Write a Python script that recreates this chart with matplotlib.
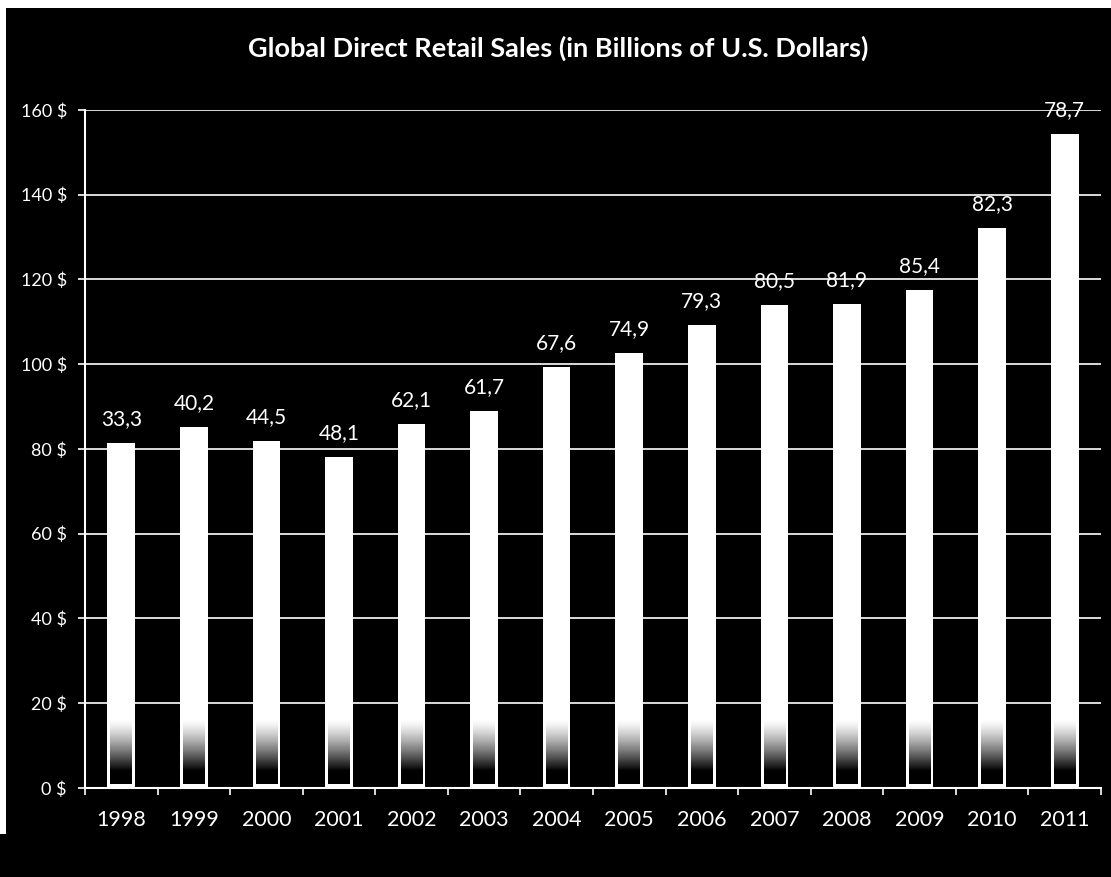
import numpy as np
import matplotlib
matplotlib.use("Agg")
import matplotlib.pyplot as plt
from matplotlib.patches import Rectangle

plt.rcParams['font.family'] = ['Lato', 'DejaVu Sans']

# Données du graphique
years = ['1998', '1999', '2000', '2001', '2002', '2003', '2004',
         '2005', '2006', '2007', '2008', '2009', '2010', '2011']
sales = [81.5, 85.3, 82.0, 78.2, 85.8, 88.9, 99.3,
         102.6, 109.2, 114.0, 114.2, 117.5, 132.2, 154.3]
bar_labels = ['33,3', '40,2', '44,5', '48,1', '62,1', '61,7', '67,6',
              '74,9', '79,3', '80,5', '81,9', '85,4', '82,3', '78,7']
yticks = [0, 20, 40, 60, 80, 100, 120, 140, 160]

fig = plt.figure(figsize=(11.11, 8.77), dpi=100, facecolor='white')
# fond noir (petite bordure blanche en haut et à gauche)
fig.patches.append(Rectangle((6 / 1111, 0), 1, 1 - 8 / 877, transform=fig.transFigure,
                             facecolor='black', edgecolor='none', zorder=-10))
fig.patches.append(Rectangle((0, 0), 6 / 1111, 43 / 877, transform=fig.transFigure,
                             facecolor='black', edgecolor='none', zorder=-10))

ax = fig.add_axes([0.0765, 0.1015, 0.9145, 0.7731])
ax.set_facecolor('black')
ax.patch.set_alpha(0)

x = np.arange(len(years))
width = 0.38
bars = ax.bar(x, sales, width=width, color='white', edgecolor='none', zorder=3)

# dégradé sombre au pied des barres
t = np.linspace(0, 1, 64)
grad = np.clip(1.25 - 1.4 * t, 0, 1).reshape(-1, 1) ** 1.3
for b in bars:
    x0 = b.get_x() + 0.04
    x1 = b.get_x() + b.get_width() - 0.04
    img = ax.imshow(np.zeros((64, 1)), cmap='gray', vmin=0, vmax=1,
                    extent=(x0, x1, 1.0, 18), origin='lower',
                    aspect='auto', zorder=4)
    img.set_alpha(grad)

ax.set_xlim(-0.5, len(years) - 0.5)
ax.set_ylim(0, 160)
ax.set_aspect('auto')

for xi, h, lab in zip(x, sales, bar_labels):
    ax.annotate(lab, (xi, h), xytext=(0, 10), textcoords='offset points',
                ha='center', va='bottom', color='white', fontsize=15, zorder=5)

ax.set_yticks(yticks)
ax.set_yticklabels([f'{v} $' for v in yticks])
ax.grid(axis='y', color='white', linewidth=1.2, zorder=0)
ax.set_axisbelow(True)

ax.set_xticks(np.arange(len(years) + 1) - 0.5)
ax.set_xticklabels([])
ax.set_xticks(x, minor=True)
ax.set_xticklabels(years, minor=True)
ax.tick_params(axis='x', which='major', length=5, width=1.2, color='white', direction='out')
ax.tick_params(axis='x', which='minor', length=0, pad=16, labelsize=15.5, labelcolor='white')
ax.tick_params(axis='y', length=5, width=1.2, color='white', pad=8,
               labelsize=13, labelcolor='white')

for side in ['top', 'right']:
    ax.spines[side].set_visible(False)
for side in ['left', 'bottom']:
    ax.spines[side].set_color('white')
    ax.spines[side].set_linewidth(1.5)

fig.text(0.502, 0.945, 'Global Direct Retail Sales (in Billions of U.S. Dollars)',
         ha='center', va='center', color='white', fontsize=19.5, fontweight='bold')

fig.savefig('out.png', dpi=100, facecolor=fig.get_facecolor())
